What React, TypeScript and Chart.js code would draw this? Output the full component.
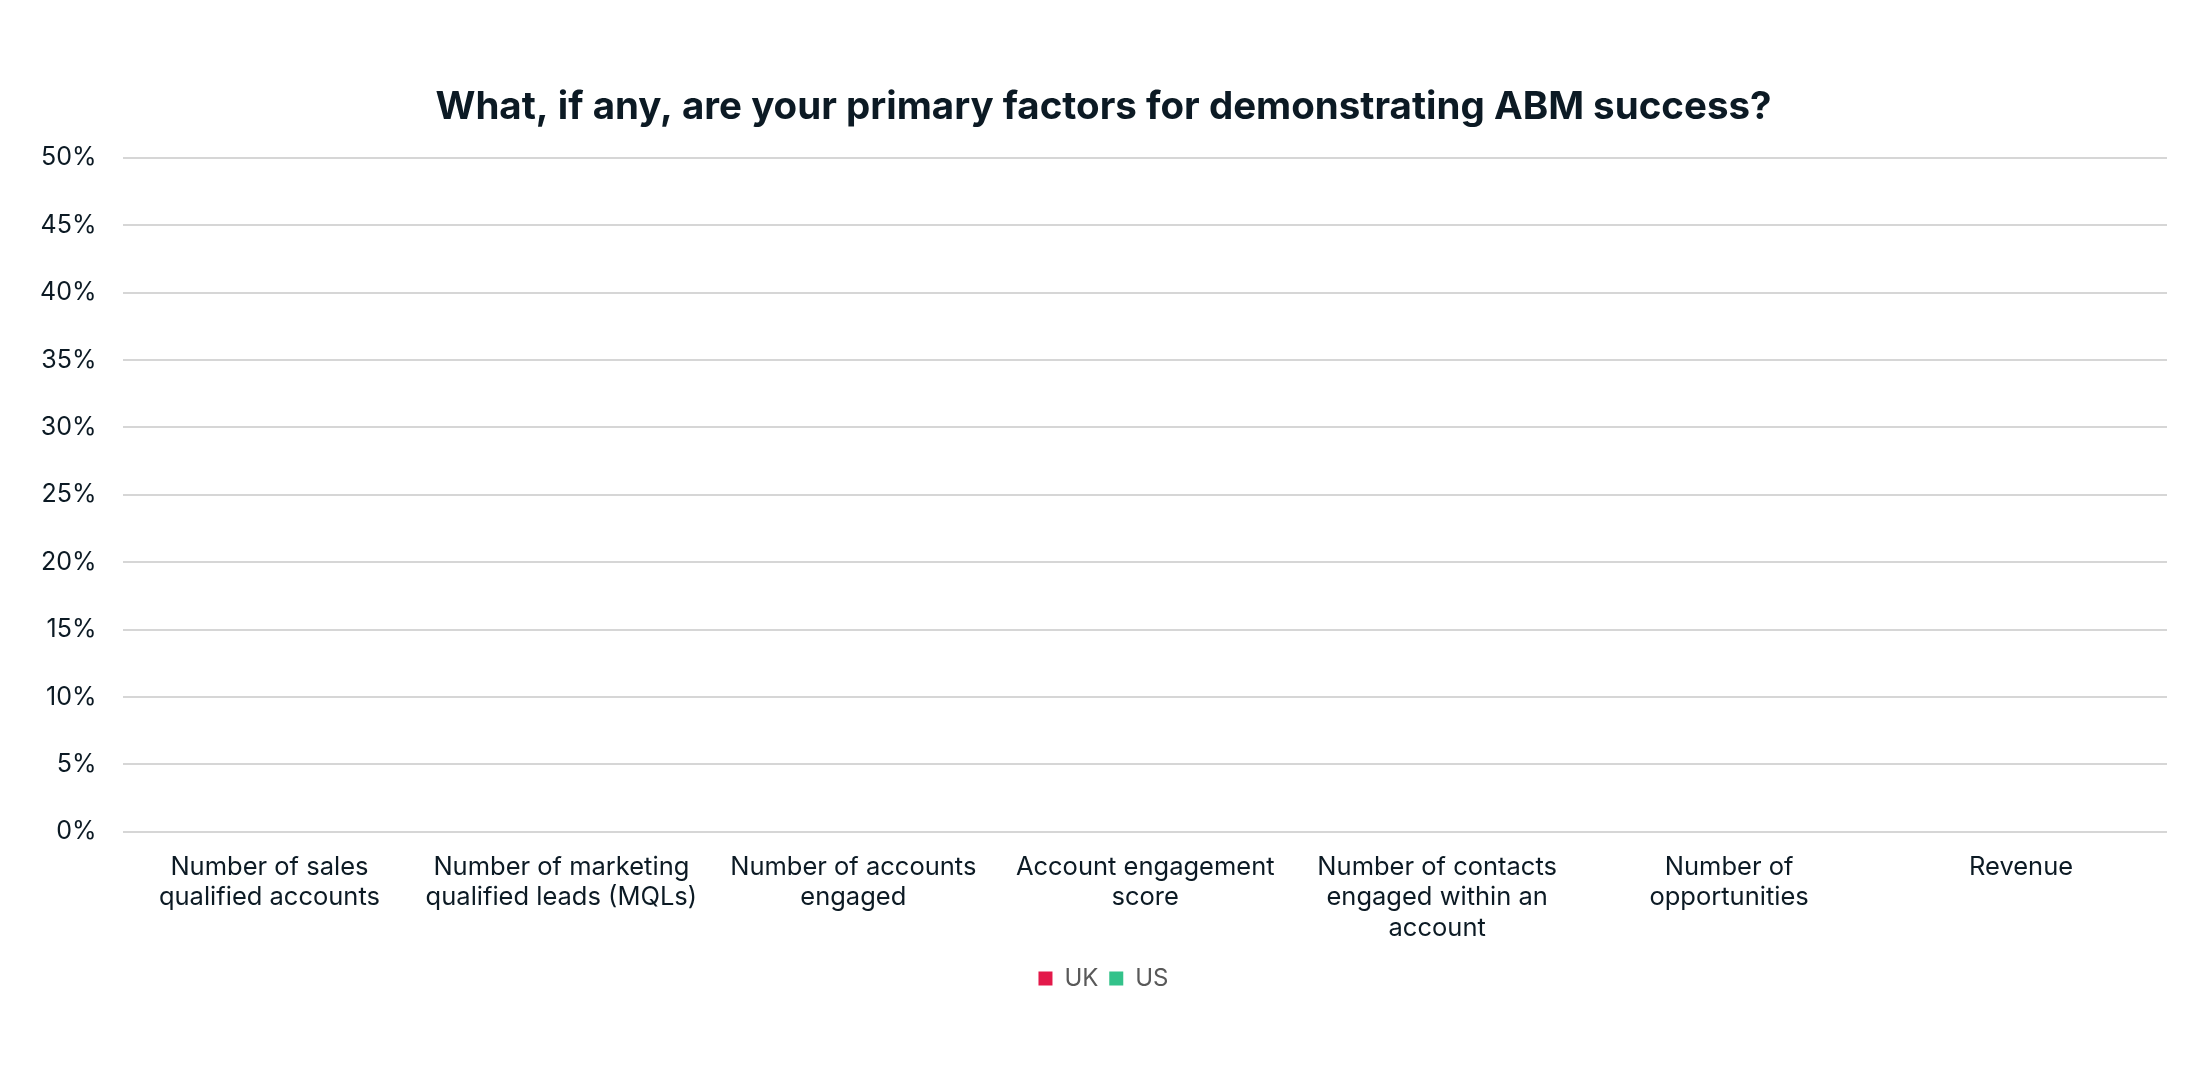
import { useEffect, useRef } from "react"
import { Chart, registerables } from "chart.js"

Chart.register(...registerables)

// Categories (wrapped the way the reference shows them)
const categories = [
  ["Number of sales", "qualified accounts"],
  ["Number of marketing", "qualified leads (MQLs)"],
  ["Number of accounts", "engaged"],
  ["Account engagement", "score"],
  ["Number of contacts", "engaged within an", "account"],
  ["Number of", "opportunities"],
  ["Revenue"],
]

// No bars are visible in the reference
const ukValues = [0, 0, 0, 0, 0, 0, 0]
const usValues = [0, 0, 0, 0, 0, 0, 0]

const yTicks = [0, 5, 10, 15, 20, 25, 30, 35, 40, 45, 50]

export default function App() {
  const chartRef = useRef<HTMLCanvasElement>(null)
  const chartInstance = useRef<Chart | null>(null)

  useEffect(() => {
    if (!chartRef.current) return
    if (chartInstance.current) chartInstance.current.destroy()
    const ctx = chartRef.current.getContext("2d")
    if (!ctx) return

    chartInstance.current = new Chart(ctx, {
      type: "bar",
      data: {
        labels: categories,
        datasets: [
          { label: "UK", data: ukValues, backgroundColor: "#E3194A", borderWidth: 0 },
          { label: "US", data: usValues, backgroundColor: "#33C28A", borderWidth: 0 },
        ],
      },
      options: {
        animation: false,
        responsive: true,
        maintainAspectRatio: false,
        layout: { padding: { top: 76, left: 32, right: 31, bottom: 71.6 } },
        plugins: {
          title: {
            display: true,
            text: "What, if any, are your primary factors for demonstrating ABM success?",
            color: "#0c1a24",
            font: { family: "Inter", size: 38.5, weight: "bold" },
            padding: { top: 0, bottom: 27.6 },
          },
          legend: {
            position: "bottom",
            labels: {
              boxWidth: 14,
              boxHeight: 14,
              color: "#595959",
              padding: 10.8,
              font: { family: "Inter", size: 24 },
            },
          },
          tooltip: { enabled: false },
        },
        scales: {
          x: {
            grid: { display: false },
            border: { display: false },
            ticks: {
              maxRotation: 0,
              autoSkip: false,
              padding: 12,
              color: "#0c1a24",
              font: { family: "Inter", size: 25.5, lineHeight: 1.2 },
            },
          },
          y: {
            min: 0,
            max: 50,
            afterBuildTicks: (axis) => {
              axis.ticks = yTicks.map((v) => ({ value: v }))
            },
            // trim the spare room left of the labels so the title centres like the reference
            afterFit: (axis) => {
              axis.width = axis.width - 27
            },
            grid: { color: "#d6d6d6", lineWidth: 2, drawTicks: false },
            border: { display: false },
            ticks: {
              padding: 27,
              color: "#0c1a24",
              font: { family: "Inter", size: 25 },
              callback: (value) => value + "%",
            },
          },
        },
      },
    })

    return () => {
      if (chartInstance.current) chartInstance.current.destroy()
    }
  }, [])

  return (
    <div style={{ width: 2190, height: 1064, background: "#fff" }}>
      <canvas ref={chartRef} />
    </div>
  )
}
